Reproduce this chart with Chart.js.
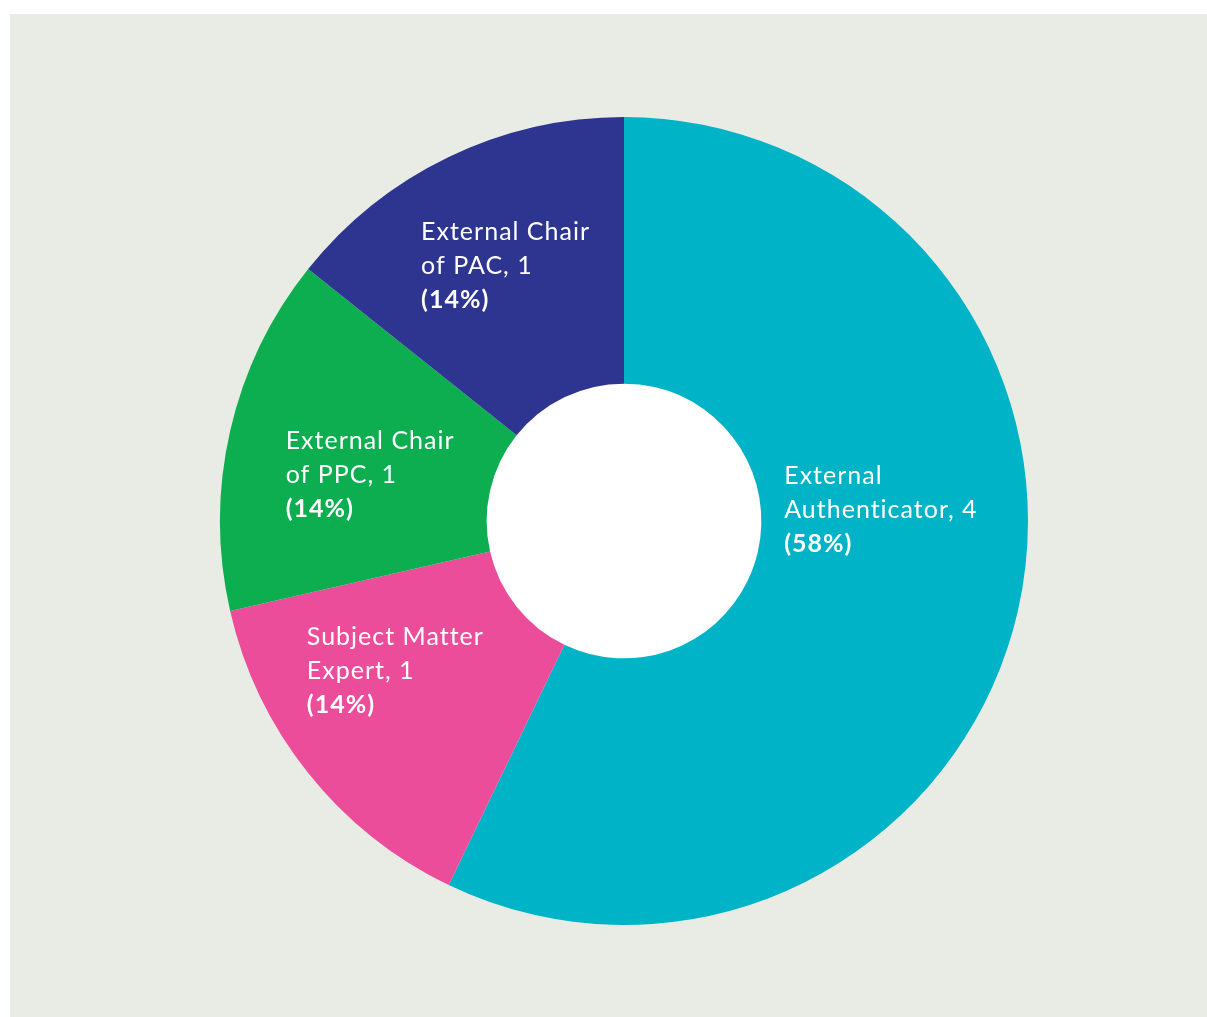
<!DOCTYPE html>
<html>
<head>
<meta charset="utf-8">
<script src="https://cdn.jsdelivr.net/npm/chart.js@4.4.0/dist/chart.umd.min.js"></script>
<style>
  html, body { margin: 0; padding: 0; background: #ffffff; }
  #panel { position: absolute; left: 10px; top: 14px; width: 1197px; height: 1003px; background: #e9ece5; }
</style>
</head>
<body>
<div id="panel"><canvas id="chartContainer"></canvas></div>
<script>
const categories = [
  ['External', 'Authenticator, 4'],
  ['Subject Matter', 'Expert, 1'],
  ['External Chair', 'of PPC, 1'],
  ['External Chair', 'of PAC, 1']
];
const counts = [4, 1, 1, 1];
const percentLabels = ['(58%)', '(14%)', '(14%)', '(14%)'];
const colours = ['#00b3c6', '#ec4d9b', '#0cae50', '#2e3590'];

// small nudges of each label block away from the slice centroid
const nudge = [[-7, -71], [-17, -19], [10, 14], [-1, -11]];

// white disc in the doughnut hole
const holeFill = {
  id: 'holeFill',
  beforeDatasetsDraw(chart) {
    const arc = chart.getDatasetMeta(0).data[0];
    if (!arc) return;
    const p = arc.getProps(['x', 'y', 'innerRadius'], true);
    const ctx = chart.ctx;
    ctx.save();
    ctx.fillStyle = '#ffffff';
    ctx.beginPath();
    ctx.arc(p.x, p.y, p.innerRadius + 1, 0, Math.PI * 2);
    ctx.fill();
    ctx.restore();
  }
};

const sliceLabels = {
  id: 'sliceLabels',
  afterDatasetsDraw(chart) {
    const ctx = chart.ctx;
    const meta = chart.getDatasetMeta(0);
    const lineH = 34;
    meta.data.forEach(function (arc, i) {
      const p = arc.getProps(['x', 'y', 'startAngle', 'endAngle', 'innerRadius', 'outerRadius'], true);
      const mid = (p.startAngle + p.endAngle) / 2;
      const r = (p.innerRadius + p.outerRadius) / 2;
      const cx = p.x + Math.cos(mid) * r + nudge[i][0];
      const cy = p.y + Math.sin(mid) * r + nudge[i][1];
      const lines = categories[i].concat([percentLabels[i]]);
      ctx.save();
      ctx.fillStyle = '#ffffff';
      ctx.textBaseline = 'middle';
      ctx.textAlign = 'left';
      ctx.letterSpacing = '1px';
      let w = 0;
      lines.forEach(function (t, k) {
        ctx.font = (k === lines.length - 1 ? 'bold ' : '') + '25px Lato';
        w = Math.max(w, ctx.measureText(t).width);
      });
      const x0 = cx - w / 2;
      const y0 = cy - lineH * (lines.length - 1) / 2;
      lines.forEach(function (t, k) {
        ctx.font = (k === lines.length - 1 ? 'bold ' : '') + '25px Lato';
        ctx.fillText(t, x0, y0 + k * lineH);
      });
      ctx.restore();
    });
  }
};

const data = {
  labels: categories.map(function (c) { return c.join(' '); }),
  datasets: [{
    data: counts,
    backgroundColor: colours,
    borderWidth: 0
  }]
};

const config = {
  type: 'doughnut',
  data: data,
  options: {
    responsive: true,
    maintainAspectRatio: false,
    animation: false,
    cutout: '34%',
    layout: { padding: { left: 210, right: 179, top: 103, bottom: 92 } },
    plugins: {
      legend: { display: false },
      tooltip: { enabled: false }
    }
  },
  plugins: [holeFill, sliceLabels]
};

var myChart = new Chart(document.getElementById('chartContainer'), config);
</script>
</body>
</html>
